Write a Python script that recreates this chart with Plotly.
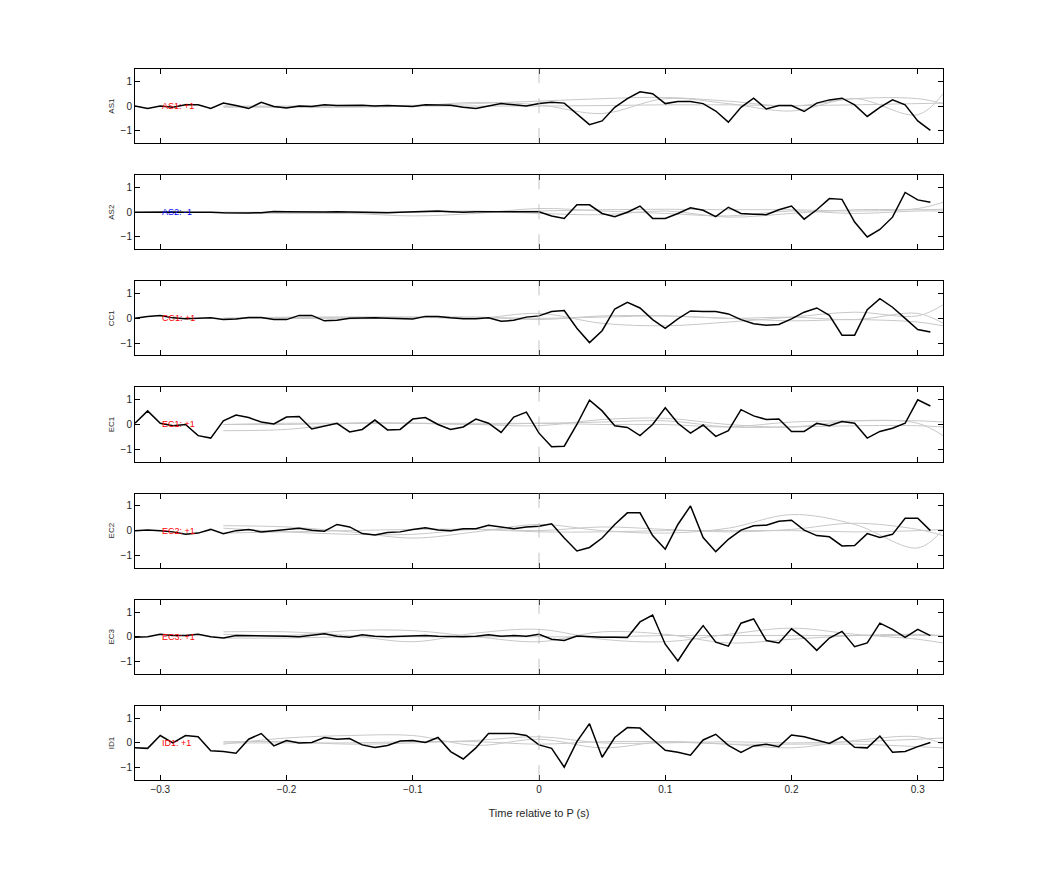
import numpy as np
import plotly.graph_objects as go
from plotly.subplots import make_subplots

# time axis for the black traces (s)
t = np.round(np.arange(-0.32, 0.315, 0.01), 2)
# time axis for the smooth gray traces
t_gray = [-0.25, -0.20, -0.15, -0.10, -0.05, 0.0, 0.05, 0.10, 0.15, 0.20, 0.25, 0.30, 0.32]

channels = ["AS1", "AS2", "CC1", "EC1", "EC2", "EC3", "ID1"]
labels = ["AS1: +1", "AS2: -1", "CC1: +1", "EC1: +1", "EC2: +1", "EC3: +1", "ID1: +1"]
label_colors = ["red", "blue", "red", "red", "red", "red", "red"]

as1 = [0, -0.1, 0, -0.05, 0.05, 0.05, -0.1, 0.12, 0.02, -0.1, 0.15, -0.02, -0.08, 0, -0.02, 0.05,
       0.02, 0.03, 0.03, 0, 0.02, 0, -0.02, 0.05, 0.03, 0.03, -0.05, -0.1, 0, 0.1, 0.05, 0.0,
       0.1, 0.15, 0.12, -0.3, -0.75, -0.6, -0.05, 0.3, 0.58, 0.5, 0.1, 0.18, 0.18, 0.1, -0.2, -0.65,
       -0.05, 0.32, -0.12, 0.02, 0.02, -0.22, 0.12, 0.25, 0.32, 0.05, -0.42, -0.05, 0.25, 0.05, -0.6, -0.98]
as2 = [0, 0.01, 0, 0.01, 0, 0.01, 0, -0.02, -0.03, -0.03, -0.02, 0.03, 0.02, 0.01, 0.02, 0.01,
       0.02, 0.01, 0, -0.01, -0.02, 0, 0.02, 0.04, 0.05, 0.02, 0, 0.02, 0.02, 0.01, 0.03, 0,
       0.02, -0.15, -0.25, 0.3, 0.3, -0.05, -0.18, 0, 0.25, -0.25, -0.25, -0.05, 0.18, 0.08, -0.18, 0.2,
       -0.05, -0.08, -0.1, 0.1, 0.25, -0.28, 0.1, 0.55, 0.52, -0.4, -1.0, -0.7, -0.2, 0.8, 0.5, 0.4]
cc1 = [0, 0.08, 0.12, 0.02, -0.02, 0, 0.02, -0.05, -0.03, 0.03, 0.03, -0.05, -0.05, 0.12, 0.12, -0.1,
       -0.08, 0, 0.02, 0.02, 0, -0.02, -0.03, 0.08, 0.08, 0.02, -0.02, -0.02, 0.02, -0.12, -0.08, 0.05,
       0.1, 0.28, 0.32, -0.4, -0.98, -0.5, 0.38, 0.65, 0.42, -0.05, -0.4, -0.02, 0.3, 0.28, 0.28, 0.18,
       -0.05, -0.22, -0.28, -0.25, -0.02, 0.25, 0.42, 0.12, -0.68, -0.68, 0.35, 0.8, 0.45, 0.0, -0.45, -0.55]
ec1 = [0.05, 0.55, 0.05, -0.05, 0.0, -0.45, -0.55, 0.15, 0.38, 0.28, 0.1, 0.02, 0.3, 0.32, -0.18, -0.05,
       0.05, -0.3, -0.2, 0.18, -0.22, -0.2, 0.22, 0.28, 0, -0.2, -0.1, 0.22, 0.05, -0.32, 0.3, 0.5,
       -0.35, -0.9, -0.88, 0.0, 0.98, 0.55, -0.05, -0.12, -0.45, 0.0, 0.68, 0.05, -0.35, -0.02, -0.48, -0.25,
       0.6, 0.35, 0.2, 0.22, -0.28, -0.28, 0.05, -0.05, 0.12, 0.05, -0.55, -0.28, -0.15, 0.05, 1.0, 0.75]
ec2 = [0, 0.03, 0, -0.05, -0.15, -0.1, 0.05, -0.12, 0, 0.05, -0.05, 0, 0.08, 0.1, 0.02, -0.02,
       0.25, 0.15, -0.12, -0.18, -0.08, -0.05, 0.05, 0.12, 0.03, 0, 0.08, 0.08, 0.22, 0.15, 0.08, 0.15,
       0.18, 0.28, -0.3, -0.82, -0.68, -0.3, 0.25, 0.72, 0.72, -0.2, -0.75, 0.25, 1.0, -0.28, -0.85, -0.35,
       0.02, 0.2, 0.22, 0.38, 0.42, 0.02, -0.2, -0.25, -0.62, -0.6, -0.12, -0.28, -0.15, 0.5, 0.5, 0.0]
ec3 = [-0.02, 0, 0.1, 0.05, 0.05, 0.1, 0, -0.05, 0.05, 0.05, 0.05, 0.03, 0.02, 0, 0.05, 0.12,
       0.02, -0.02, 0.08, 0.02, 0, 0.02, 0.05, 0.05, 0.02, 0, 0, 0.02, 0.08, 0.02, 0.05, 0.02,
       0.1, -0.1, -0.15, 0.03, 0, -0.02, -0.02, -0.03, 0.6, 0.88, -0.3, -0.98, -0.2, 0.45, -0.22, -0.38,
       0.55, 0.72, -0.15, -0.25, 0.32, -0.05, -0.55, -0.05, 0.22, -0.4, -0.25, 0.55, 0.3, -0.02, 0.3, 0.05]
id1 = [-0.2, -0.22, 0.3, 0.0, 0.3, 0.25, -0.32, -0.35, -0.42, 0.15, 0.38, -0.12, 0.1, 0, 0.02, 0.22,
       0.15, 0.18, -0.08, -0.18, -0.1, 0.08, 0.1, 0.02, 0.22, -0.35, -0.65, -0.2, 0.38, 0.38, 0.38, 0.3,
       -0.08, -0.22, -0.98, 0.05, 0.78, -0.58, 0.22, 0.62, 0.6, 0.15, -0.3, -0.38, -0.5, 0.12, 0.35, -0.1,
       -0.38, -0.12, -0.05, -0.15, 0.32, 0.25, 0.12, -0.02, 0.25, -0.18, -0.2, 0.28, -0.38, -0.35, -0.15, 0.02]
black = [as1, as2, cc1, ec1, ec2, ec3, id1]

# smooth gray comparison traces, a few per channel
gray = [
    [[0, -0.05, -0.05, 0, 0.15, 0.05, -0.3, 0.3, 0.1, -0.2, 0.3, -0.35, 0.5],
     [0, 0, 0.02, 0, 0, 0, 0.02, 0.05, 0.05, 0.02, 0.05, 0.1, 0.12],
     [-0.05, -0.03, 0, 0.03, 0.1, 0.2, 0.3, 0.35, 0.2, 0, 0.3, 0.3, 0.1]],
    [[0, -0.05, -0.05, -0.15, -0.05, 0.15, 0.05, -0.05, -0.15, 0.05, -0.05, 0.05, 0.05],
     [0, 0, 0.02, 0, 0.02, 0.05, 0.1, 0.12, 0.1, 0.1, 0.05, 0.15, 0.4],
     [-0.05, -0.02, -0.03, 0, 0.05, -0.05, -0.1, 0.05, -0.2, -0.05, 0.1, 0.1, 0.12]],
    [[0, 0.05, 0.05, 0.05, 0.0, 0.2, -0.2, -0.3, -0.15, 0.05, 0.25, 0.1, 0.55],
     [0, 0, -0.02, 0.02, 0.05, -0.05, 0.1, 0.1, 0.0, -0.1, -0.05, -0.15, -0.3],
     [0, 0.02, 0.05, 0.05, 0.05, 0.0, 0.05, 0.1, 0.0, 0.05, -0.05, 0.2, -0.2]],
    [[-0.25, -0.2, 0.05, 0.05, 0.0, -0.05, 0.2, 0.25, 0.0, -0.1, 0.15, 0.05, -0.45],
     [0, 0.05, 0.05, 0.05, 0.0, 0.05, 0.0, 0.0, -0.1, 0.1, 0.15, 0.15, 0.1],
     [0, 0, 0.05, 0.05, 0.05, 0.05, 0.1, 0.15, -0.1, -0.1, -0.05, -0.05, -0.1]],
    [[0.2, 0.15, -0.05, -0.3, -0.05, 0.25, 0.0, -0.1, 0.1, 0.65, 0.25, -0.7, 0.05],
     [0.1, -0.05, -0.15, -0.15, 0.05, 0.0, 0.15, 0.05, -0.05, 0.05, 0.3, 0.05, -0.2],
     [-0.1, -0.05, 0.0, 0.05, 0.05, -0.05, -0.05, 0.0, 0.0, 0.0, -0.05, 0.0, 0.05]],
    [[0.2, 0.2, 0.05, -0.2, 0.15, 0.3, -0.1, -0.2, 0.1, 0.35, 0.1, -0.1, -0.25],
     [0.1, 0.05, 0.25, 0.25, 0.0, -0.2, 0.2, 0.1, -0.25, -0.1, 0.05, 0.1, 0.05],
     [-0.05, -0.05, 0.0, 0.0, 0.0, 0.0, 0.0, 0.05, 0.05, 0.05, 0.05, 0.05, 0.05]],
    [[-0.05, 0.2, 0.3, 0.3, -0.1, 0.15, -0.2, 0.05, -0.05, -0.2, 0.1, 0.25, -0.05],
     [0.05, 0.05, -0.05, 0.0, 0.1, 0.25, 0.0, 0.0, 0.05, 0.0, 0.05, 0.15, 0.2],
     [0, 0, 0, 0.05, 0.05, -0.05, 0.05, 0.05, -0.05, -0.05, -0.05, -0.15, -0.2]],
]

fig = make_subplots(rows=7, cols=1, shared_xaxes=True, vertical_spacing=0.045)

for i, ch in enumerate(channels):
    r = i + 1
    for g in gray[i]:
        fig.add_trace(go.Scatter(x=t_gray, y=g, mode="lines", line=dict(color="#c8c8c8", width=1, shape="spline"),
                                 showlegend=False, hoverinfo="skip"), row=r, col=1)
    fig.add_trace(go.Scatter(x=t, y=black[i], mode="lines", line=dict(color="black", width=1.5),
                             showlegend=False), row=r, col=1)
    fig.add_vline(x=0, line=dict(color="#b4b4b4", width=0.8, dash="longdash"), row=r, col=1)
    fig.add_annotation(x=-0.3, y=0, text=labels[i], showarrow=False, xanchor="left",
                       font=dict(color=label_colors[i], size=9), row=r, col=1)
    fig.update_yaxes(title_text=ch, title_font=dict(size=8), title_standoff=4, row=r, col=1)

fig.update_xaxes(range=[-0.32, 0.32], showline=True, linecolor="black", linewidth=1, mirror="ticks",
                 ticks="inside", ticklen=5, tickcolor="black", tickvals=[-0.3, -0.2, -0.1, 0, 0.1, 0.2, 0.3],
                 showgrid=False, zeroline=False)
fig.update_xaxes(title_text="Time relative to P (s)", title_font=dict(size=11), row=7, col=1)
fig.update_yaxes(range=[-1.5, 1.5], tickvals=[-1, 0, 1], showline=True, linecolor="black", linewidth=1,
                 mirror="ticks", ticks="inside", ticklen=5, tickcolor="black", showgrid=False, zeroline=False)

fig.update_layout(width=1042, height=875, plot_bgcolor="white", paper_bgcolor="white",
                  margin=dict(l=127, r=107, t=61, b=103),
                  font=dict(family="Liberation Sans, Arial", size=10, color="#262626"))

fig.write_html("out.html")
